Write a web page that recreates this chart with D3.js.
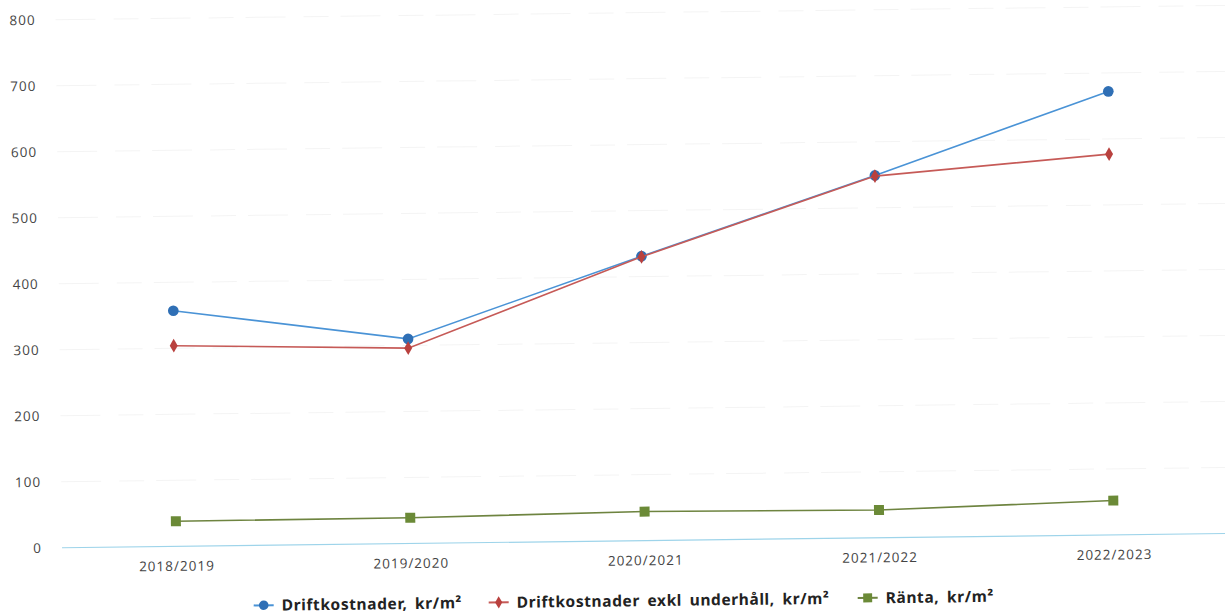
<!DOCTYPE html>
<html>
<head>
<meta charset="utf-8">
<script src="https://cdn.jsdelivr.net/npm/d3@7"></script>
<style>
  html, body { margin: 0; padding: 0; background: #fff; }
  svg { display: block; }
</style>
</head>
<body>
<svg id="chart" width="1225" height="615"></svg>
<script>
// Years on the x axis
const categories = ["2018/2019", "2019/2020", "2020/2021", "2021/2022", "2022/2023"];
// Operating costs per m²
const driftkostnader = [357, 310, 431, 549, 672];
// Operating costs excluding maintenance per m²
const driftkostnaderExkl = [304, 296, 430, 548, 577];
// Interest per m²
const ranta = [38, 39, 44, 42, 52];
// Y axis ticks
const yTicks = [0, 100, 200, 300, 400, 500, 600, 700, 800];

const seriesNames = ["Driftkostnader, kr/m²", "Driftkostnader exkl underhåll, kr/m²", "Ränta, kr/m²"];

const svg = d3.select("#chart");
// the whole sheet sits slightly tilted
const g = svg.append("g").attr("transform", "rotate(-0.7, 40, 548)");

const x = d3.scalePoint().domain(categories).range([59, 1231]).padding(0.5);
const y = d3.scaleLinear().domain([0, 800]).range([548, 20]);

const labelFont = "'Open Sans', 'DejaVu Sans', sans-serif";

// faint gridlines
g.append("g").selectAll("line")
  .data(yTicks.filter(d => d > 0))
  .join("line")
  .attr("x1", 62).attr("x2", 1235)
  .attr("y1", d => y(d)).attr("y2", d => y(d))
  .attr("stroke", "#f4f4f4").attr("stroke-width", 1)
  .attr("stroke-dasharray", "40 18 25 12");

// y axis labels
const yAxis = g.append("g").attr("transform", "translate(42,0)")
  .call(d3.axisLeft(y).tickValues(yTicks).tickSize(0).tickPadding(0));
yAxis.select(".domain").remove();
yAxis.selectAll("text")
  .attr("font-family", labelFont).attr("font-size", 13.5)
  .attr("letter-spacing", "1px").attr("fill", "#444");

// baseline and x labels
const xAxis = g.append("g").attr("transform", "translate(0,548)")
  .call(d3.axisBottom(x).tickSize(0).tickPadding(15));
xAxis.select(".domain").attr("d", "M62,0H1240").attr("stroke", "#9ed4ea").attr("stroke-width", 1.2);
xAxis.selectAll("text")
  .attr("font-family", labelFont).attr("font-size", 13.5)
  .attr("letter-spacing", "1px").attr("fill", "#444");

const series = [
  { name: seriesNames[0], values: driftkostnader, line: "#4a93d6", mark: "#2f6fb5", shape: d3.symbolCircle, size: 90 },
  { name: seriesNames[1], values: driftkostnaderExkl, line: "#c65a57", mark: "#b9413e", shape: d3.symbolDiamond, size: 55 },
  { name: seriesNames[2], values: ranta, line: "#6e8440", mark: "#6b8a37", shape: d3.symbolSquare, size: 100 }
];

const line = d3.line().x((d, i) => x(categories[i])).y(d => y(d));

series.forEach(s => {
  g.append("path")
    .datum(s.values)
    .attr("d", line)
    .attr("fill", "none")
    .attr("stroke", s.line)
    .attr("stroke-width", 1.6);
  g.append("g").selectAll("path")
    .data(s.values)
    .join("path")
    .attr("transform", (d, i) => `translate(${x(categories[i])},${y(d)})`)
    .attr("d", d3.symbol().type(s.shape).size(s.size))
    .attr("fill", s.mark);
});

// legend
const legendX = [253, 488, 857];
const legend = g.append("g").attr("transform", "translate(0,608)");
series.forEach((s, i) => {
  const item = legend.append("g").attr("transform", `translate(${legendX[i]},0)`);
  item.append("line").attr("x1", 0).attr("x2", 20).attr("y1", 0).attr("y2", 0)
    .attr("stroke", s.line).attr("stroke-width", 2);
  item.append("path").attr("transform", "translate(10,0)")
    .attr("d", d3.symbol().type(s.shape).size(s.size * 0.8))
    .attr("fill", s.mark);
  item.append("text").attr("x", 28).attr("y", 5.5)
    .attr("font-family", "'Noto Sans', 'DejaVu Sans', sans-serif")
    .attr("font-weight", "bold").attr("font-size", 15.5)
    .attr("letter-spacing", "0.6px")
    .attr("word-spacing", "3px")
    .attr("fill", "#222")
    .text(s.name);
});
</script>
</body>
</html>
